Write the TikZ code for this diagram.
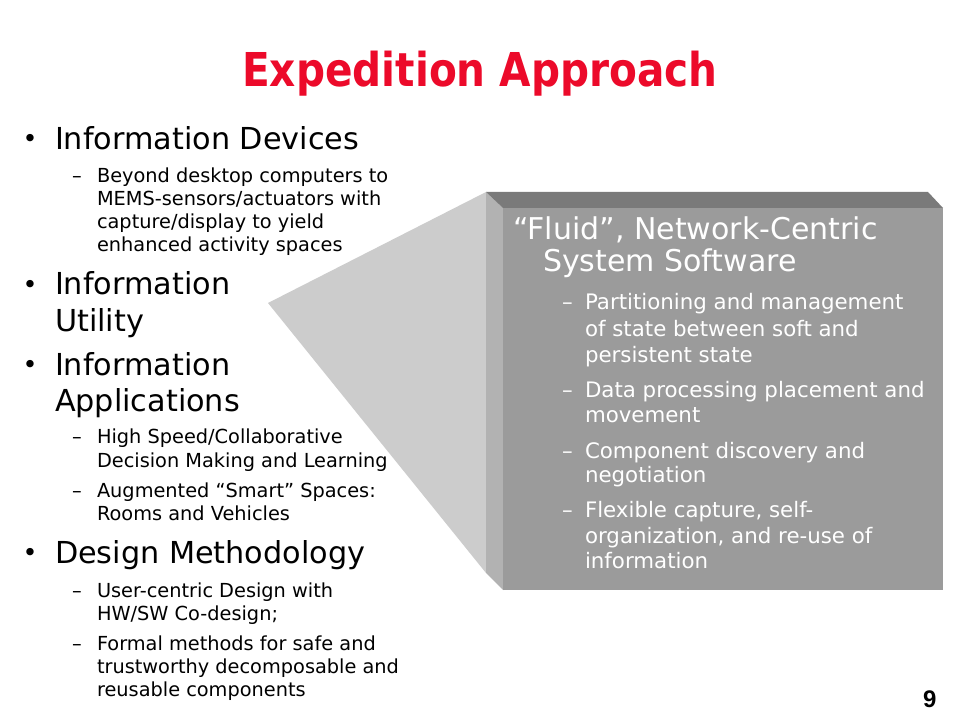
\documentclass[tikz,border=0pt]{standalone}
\usepackage{fontspec}
\setmainfont{DejaVu Sans}
\newfontfamily\titlefont[FakeStretch=0.87]{DejaVu Sans}
\newfontfamily\numfont{Liberation Sans}
\definecolor{titlered}{RGB}{236,10,42}
\definecolor{trigrey}{RGB}{204,204,204}
\definecolor{sidegrey}{RGB}{178,178,178}
\definecolor{topgrey}{RGB}{122,122,122}
\definecolor{frontgrey}{RGB}{155,155,155}
\begin{document}
\begin{tikzpicture}[x=0.75pt,y=-0.75pt,
  every node/.style={inner sep=0pt,outer sep=0pt,anchor=base west},
  lone/.style={font=\fontsize{22.7}{27}\selectfont},
  bul/.style={font=\fontsize{19}{21}\selectfont},
  ltwo/.style={font=\fontsize{14.5}{17}\selectfont},
  bone/.style={font=\fontsize{22.5}{25}\selectfont,text=white},
  btwo/.style={font=\fontsize{16}{19.5}\selectfont,text=white},
]
\useasboundingbox (0,0) rectangle (960,720);
\fill[white] (0,0) rectangle (960,720);

% callout triangle and 3D box
\fill[trigrey] (268,303) -- (486,192) -- (486,573) -- cycle;
\fill[sidegrey] (486,192) -- (503,208) -- (503,590) -- (486,573) -- cycle;
\fill[topgrey] (486,192) -- (928,192) -- (943,208) -- (503,208) -- cycle;
\fill[frontgrey] (503,208) rectangle (943,590);

% title
\node[anchor=base,text=titlered,font=\titlefont\bfseries\fontsize{35}{40}\selectfont] (title) at (480,87) {Expedition Approach};

% left column
\node[bul] (bu1) at (22.5,148) {•};
\node[lone] (t1) at (55,150) {Information Devices};
\node[ltwo] (da1) at (72,183) {–};
\node[ltwo] (t1a) at (97,183) {Beyond desktop computers to};
\node[ltwo] (t1b) at (97,206) {MEMS-sensors/actuators with};
\node[ltwo] (t1c) at (97,229) {capture/display to yield};
\node[ltwo] (t1d) at (97,252) {enhanced activity spaces};

\node[bul] (bu2) at (22.5,293) {•};
\node[lone] (t2a) at (55,295) {Information};
\node[lone] (t2b) at (55,331) {Utility};

\node[bul] (bu3) at (22.5,373) {•};
\node[lone] (t3a) at (55,375) {Information};
\node[lone] (t3b) at (55,411) {Applications};
\node[ltwo] (da3a) at (72,443) {–};
\node[ltwo] (t3c) at (97,443) {High Speed/Collaborative};
\node[ltwo] (t3d) at (97,467) {Decision Making and Learning};
\node[ltwo] (da3b) at (72,497) {–};
\node[ltwo] (t3e) at (97,497) {Augmented “Smart” Spaces:};
\node[ltwo] (t3f) at (97,520) {Rooms and Vehicles};

\node[bul] (bu4) at (22.5,561) {•};
\node[lone] (t4) at (55,563) {Design Methodology};
\node[ltwo] (da4a) at (72,597) {–};
\node[ltwo] (t4a) at (97,597) {User-centric Design with};
\node[ltwo] (t4b) at (97,620) {HW/SW Co-design;};
\node[ltwo] (da4b) at (72,650) {–};
\node[ltwo] (t4c) at (97,650) {Formal methods for safe and};
\node[ltwo] (t4d) at (97,673) {trustworthy decomposable and};
\node[ltwo] (t4e) at (97,696) {reusable components};

% box text
\node[bone] (b0a) at (513,240) {“Fluid”, Network-Centric};
\node[bone] (b0b) at (543,272) {System Software};
\node[btwo] (bd1) at (562,310) {–};
\node[btwo] (b1a) at (585,310) {Partitioning and management};
\node[btwo] (b1b) at (585,336) {of state between soft and};
\node[btwo] (b1c) at (585,362) {persistent state};
\node[btwo] (bd2) at (562,397) {–};
\node[btwo] (b2a) at (585,397) {Data processing placement and};
\node[btwo] (b2b) at (585,422) {movement};
\node[btwo] (bd3) at (562,458) {–};
\node[btwo] (b3a) at (585,458) {Component discovery and};
\node[btwo] (b3b) at (585,482) {negotiation};
\node[btwo] (bd4) at (562,517) {–};
\node[btwo] (b4a) at (585,517) {Flexible capture, self-};
\node[btwo] (b4b) at (585,543) {organization, and re-use of};
\node[btwo] (b4c) at (585,568) {information};

% page number
\node[font=\numfont\bfseries\fontsize{18}{20}\selectfont] (pnum) at (923,707) {9};
\end{tikzpicture}
\end{document}
